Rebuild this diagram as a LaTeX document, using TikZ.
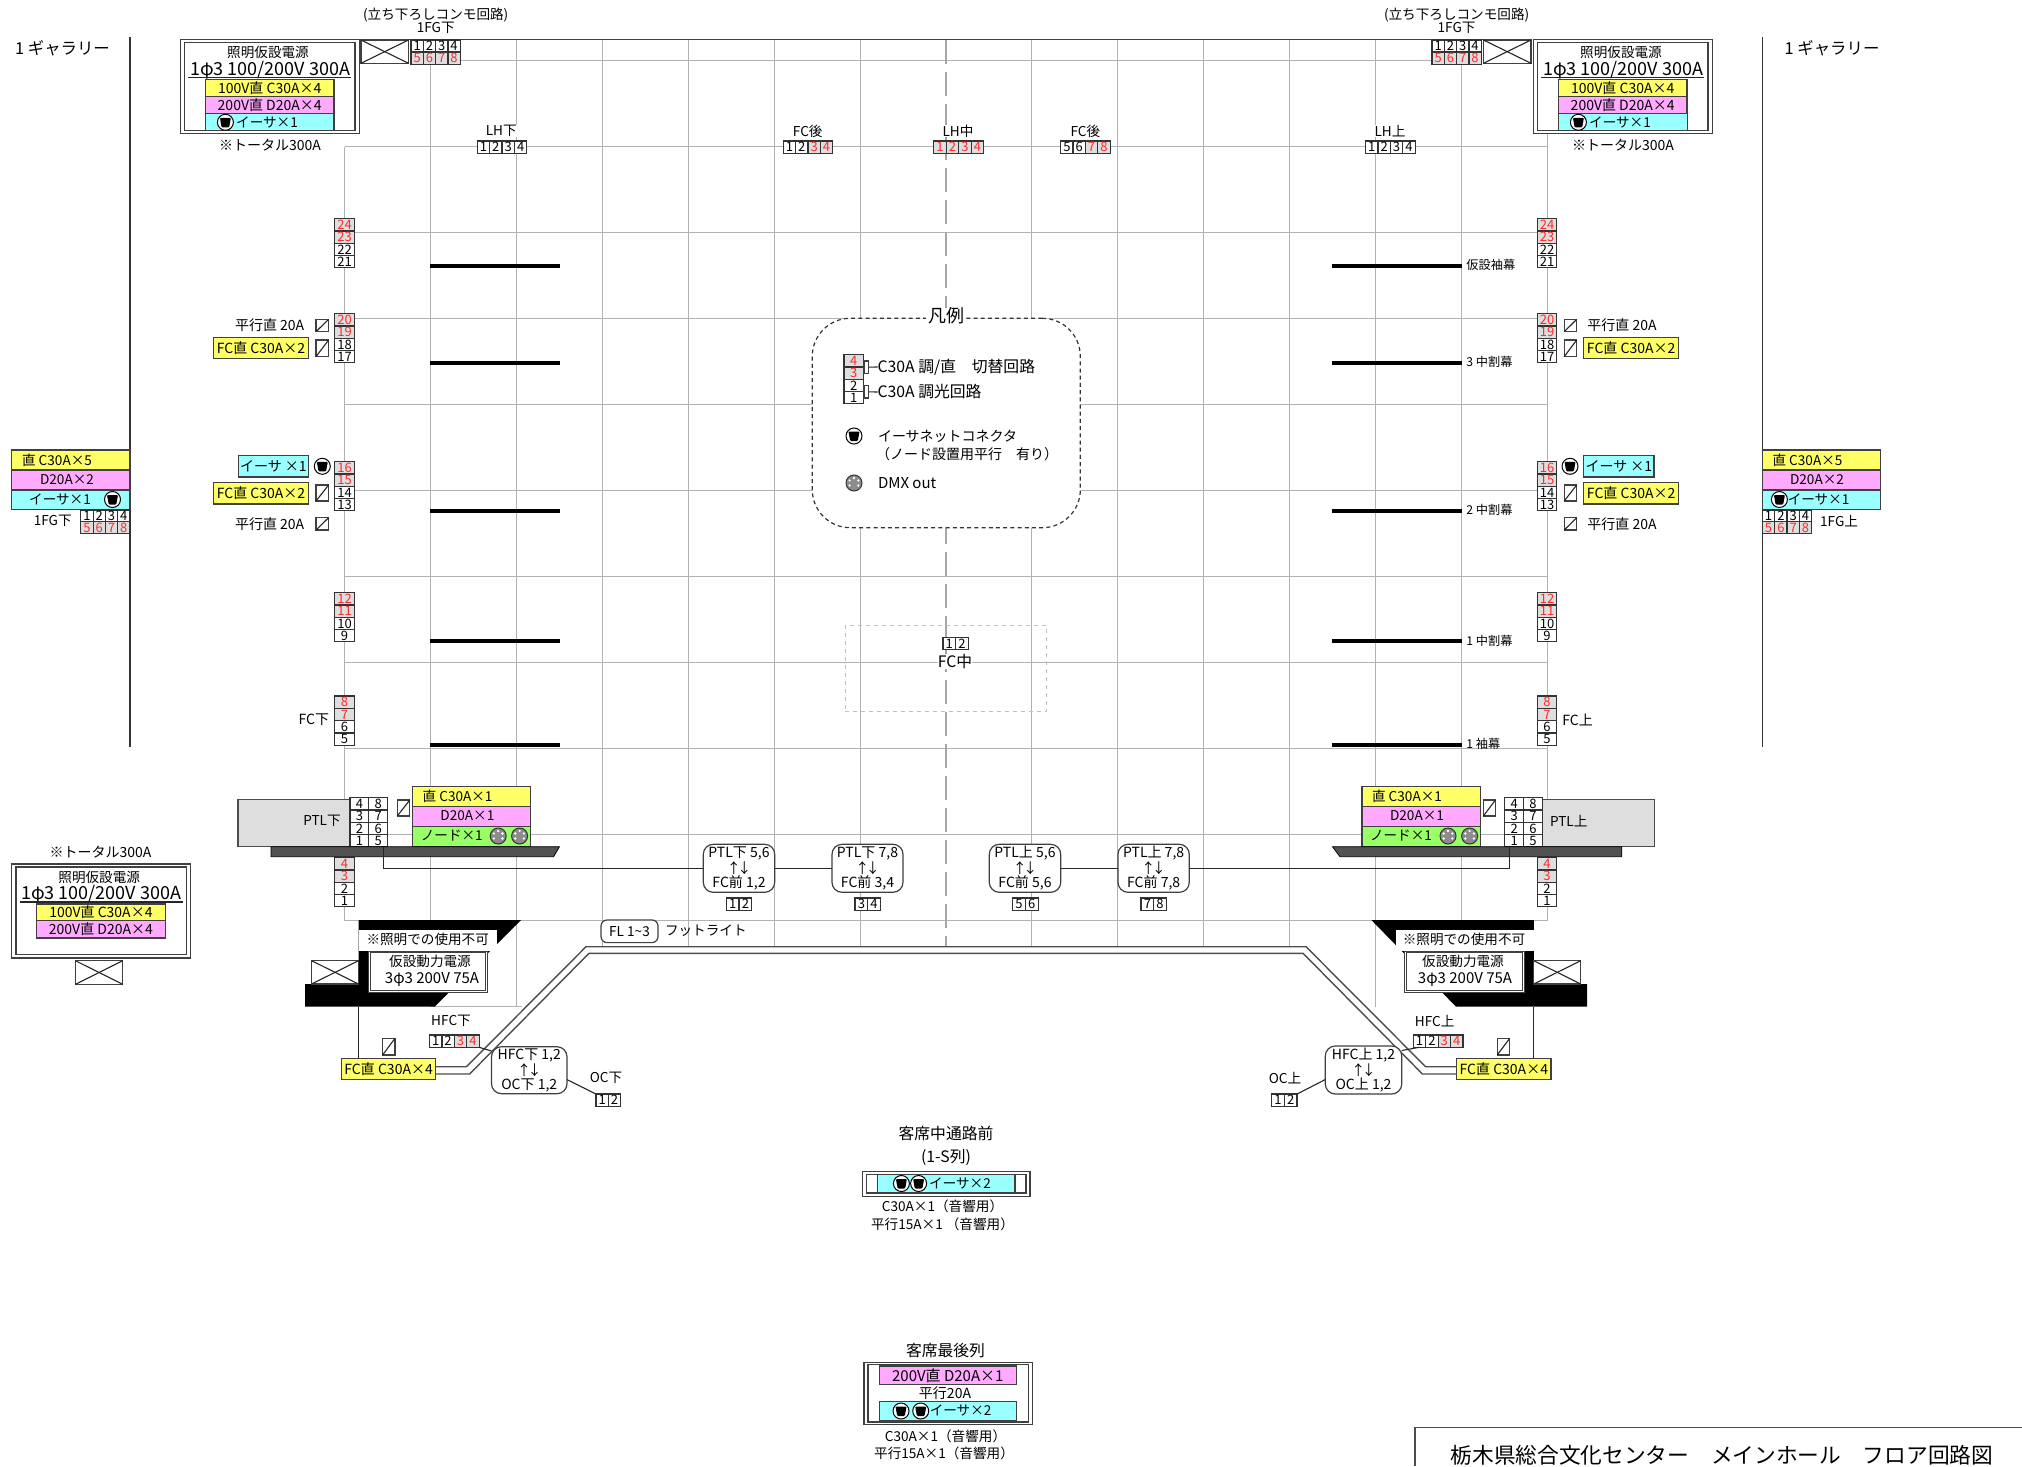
\documentclass[tikz,border=0pt]{standalone}
\usepackage{fontspec}
\setmainfont{Noto Sans CJK JP}
\usepackage{tikz}

\definecolor{cyel}{HTML}{FFFF66}
\definecolor{cpnk}{HTML}{FFAAFF}
\definecolor{ccya}{HTML}{99FFFF}
\definecolor{cgrn}{HTML}{99FF66}
\definecolor{cred}{HTML}{FF2A2A}

\tikzset{
	tx/.style={font=\fontsize{6.8}{7.8}\selectfont},
	txs/.style={font=\fontsize{6.1}{7}\selectfont},
	txm/.style={font=\fontsize{7}{8}\selectfont},
	txl/.style={font=\fontsize{7.5}{8.5}\selectfont},
	txh/.style={font=\fontsize{7.9}{9}\selectfont},
	txb/.style={font=\fontsize{9}{10}\selectfont},
	cellw/.style={draw=black!80,line width=.6pt,fill=white,font=\fontsize{6.5}{7}\selectfont,minimum height=6.1pt},
	cellr/.style={cellw,fill=black!13,text=cred},
	bar/.style={draw=black!75,line width=.6pt,txm},
	yelbar/.style={bar,fill=cyel},
	pnkbar/.style={bar,fill=cpnk},
	cyabar/.style={bar,fill=ccya},
	grnbar/.style={bar,fill=cgrn},
	wbox/.style={draw=black!75,line width=.6pt,fill=white},
	swbox/.style={wbox,rounded corners=5pt,align=center,font=\fontsize{7}{7.2}\selectfont},
	gridline/.style={black!30,line width=.5pt},
	wire/.style={black!85,line width=.55pt},
	stageline/.style={black!70,line width=.7pt},
	curtain/.style={black,line width=2pt},
	etherpic/.pic={
		\draw[black,line width=.5pt,fill=white] (0,0) circle (8);
		\fill[black,rounded corners=.5pt] (-5.5,-4.5) -- (5.5,-4.5) -- (3.8,5) -- (-3.8,5) -- cycle;
	},
	dmxpic/.pic={
		\draw[black!80,line width=.5pt,fill=black!45] (0,0) circle (8);
		\foreach \a in {-90,-30,30,150,210}
			\fill[white] (\a:5) circle (1.3);
	}
}

% box from its two corners, in pixels of the reference
\newcommand{\rbox}[7]{%
	\pgfmathsetmacro\bxc{(#3+#5)/2}\pgfmathsetmacro\byc{(#4+#6)/2}%
	\pgfmathsetmacro\bxw{(#5-#3)/2}\pgfmathsetmacro\byh{(#6-#4)/2}%
	\node[#1,minimum width=\bxw pt,minimum height=\byh pt] (#2) at (\bxc,\byc) {#7};}
\newcommand{\slashbox}[5]{%
	\rbox{wbox}{#1}{#2}{#3}{#4}{#5}{}
	\draw[wire] (#1.south west) -- (#1.north east);}
\newcommand{\crossbox}[5]{%
	\rbox{wbox}{#1}{#2}{#3}{#4}{#5}{}
	\draw[wire] (#1.south west) -- (#1.north east);
	\draw[wire] (#1.north west) -- (#1.south east);}
% row and column of circuit cells
\newcommand{\hrow}[5]{%
	\foreach \v/\s [count=\i] in {#5}
		\node[\s,minimum width=#4*.5pt] (#1\v) at ({#2+(\i-.5)*#4},{#3+6.15}) {\v};}
\newcommand{\vcol}[5]{%
	\foreach \v/\s [count=\i] in {#5}
		\node[\s,minimum width=#4*.5pt] (#1\v) at ({#2+#4/2},{#3+(\i-.5)*12.3}) {\v};}
% temporary power box
\newcommand{\powerbox}[3]{%
	\begin{scope}[shift={(#2,#3)}]
		\rbox{wbox}{#1out}{180.4}{39.7}{359.4}{133.7}{}
		\rbox{wbox}{#1in}{184.8}{42.7}{355}{130.3}{}
		\node[tx] (#1tit) at (268,52.7) {照明仮設電源};
		\node[txb] (#1amp) at (270,70) {1φ3 100/200V 300A};
		\draw[wire] (188.4,77.7) -- (351.3,77.7);
		\rbox{yelbar}{#1y}{205.4}{79.7}{334}{96.3}{100V直 C30A×4}
		\rbox{pnkbar}{#1p}{205.4}{96.3}{334}{113.7}{200V直 D20A×4}
	\end{scope}}

\begin{document}
\begin{tikzpicture}[x=.5pt,y=-.5pt,every node/.style={inner sep=0pt,outer sep=0pt}]
\useasboundingbox (0,0) rectangle (2022,1466);

% grid
\foreach \i in {1,2,12,13}
	\draw[gridline] ({344.6+85.9*\i},40) -- ({344.6+85.9*\i},1006.7);
\foreach \i in {3,4,5,6,8,9,10,11}
	\draw[gridline] ({344.6+85.9*\i},40) -- ({344.6+85.9*\i},947);
\draw[gridline] (344.6,146.7) -- (344.6,920.7);
\draw[gridline] (1547,134) -- (1547,920.7);
\draw[gridline] (460,60.7) -- (1432,60.7);
\foreach \j in {1,...,10}
	\draw[gridline] (344.6,{60.7+86*\j}) -- (1547,{60.7+86*\j});
\draw[gridline] (430.5,1006.7) -- (522,1006.7);
\draw[black!75,line width=.8pt] (408,39.7) -- (1484,39.7);
\draw[black!35,line width=.9pt,dash pattern=on 12pt off 4pt] (945.9,40) -- (945.9,947);

% gallery
\draw[black!80,line width=.6pt] (130,37) -- (130,746.7);
\draw[black!80,line width=.6pt] (1762.4,37) -- (1762.4,746.7);
\node[font=\fontsize{8.2}{10}\selectfont] (galL) at (62.5,48) {1 ギャラリー};
\node[font=\fontsize{8.2}{10}\selectfont] (galR) at (1832,48) {1 ギャラリー};

% curtains
\foreach \y in {265.7,362.7,511,641,745} {
	\draw[curtain] (430,\y) -- (559.8,\y);
	\draw[curtain] (1332,\y) -- (1462,\y);
}
\node[txs,anchor=west] (cur1) at (1466.4,264.5) {仮設袖幕};
\node[txs,anchor=west] (cur2) at (1466.4,362) {3 中割幕};
\node[txs,anchor=west] (cur3) at (1466.4,509.5) {2 中割幕};
\node[txs,anchor=west] (cur4) at (1466.4,640.5) {1 中割幕};
\node[txs,anchor=west] (cur5) at (1466.4,744) {1 袖幕};

% top of the stage
\crossbox{xL}{361}{40}{408.5}{63.3}
\crossbox{xR}{1483.4}{40}{1531}{63.3}
\hrow{tl}{411}{40}{12.3}{1/cellw,2/cellw,3/cellw,4/cellw}
\hrow{tm}{411}{52}{12.3}{5/cellr,6/cellr,7/cellr,8/cellr}
\hrow{trt}{1432}{40}{12.3}{1/cellw,2/cellw,3/cellw,4/cellw}
\hrow{trb}{1432}{52}{12.3}{5/cellr,6/cellr,7/cellr,8/cellr}
\node[tx] (downL) at (435.7,15) {(立ち下ろしコンモ回路)};
\node[tx] (fgL) at (435.7,28.3) {1FG下};
\node[tx] (downR) at (1456.6,15) {(立ち下ろしコンモ回路)};
\node[tx] (fgR) at (1456.6,28.3) {1FG下};

% power boxes
\powerbox{pa}{0}{0}
\rbox{cyabar}{pac}{205.4}{113.7}{334}{130.7}{}
\node[tx] (pat) at (267,122.3) {イーサ×1};
\path (225.4,122.3) pic {etherpic};
\node[txm] (pan) at (270,145.3) {※トータル300A};
\powerbox{pb}{1353}{0}
\rbox{cyabar}{pbc}{1558.4}{113.7}{1687.4}{130.7}{}
\node[tx] (pbt) at (1620,122.3) {イーサ×1};
\path (1578.4,122.3) pic {etherpic};
\node[txm] (pbn) at (1623,145.3) {※トータル300A};
\powerbox{pc}{-168.8}{824.3}
\node[txm] (pcn) at (100.5,852) {※トータル300A};
\crossbox{xC}{75.4}{960.7}{122.8}{984.3}

% labels above the grid
\node[tx,fill=white] (lhL) at (501.3,131) {LH下};
\hrow{lha}{477.2}{141}{12.4}{1/cellw,2/cellw,3/cellw,4/cellw}
\node[tx,fill=white] (fcbL) at (807.7,131) {FC後};
\hrow{fba}{783.3}{141}{12.35}{1/cellw,2/cellw,3/cellr,4/cellr}
\node[tx,fill=white] (lhC) at (958,131) {LH中};
\hrow{lhb}{933.7}{141}{12.5}{1/cellr,2/cellr,3/cellr,4/cellr}
\node[tx,fill=white] (fcbR) at (1085.3,131) {FC後};
\hrow{fbb}{1060.7}{141}{12.35}{5/cellw,6/cellw,7/cellr,8/cellr}
\node[tx,fill=white] (lhR) at (1390,131) {LH上};
\hrow{lhc}{1365.5}{141}{12.4}{1/cellw,2/cellw,3/cellw,4/cellw}

% side columns
\foreach \sd/\x in {L/334.8,R/1537.2} {
	\vcol{\sd}{\x}{218.7}{19.6}{24/cellr,23/cellr,22/cellw,21/cellw}
	\vcol{\sd}{\x}{313.7}{19.6}{20/cellr,19/cellr,18/cellw,17/cellw}
	\vcol{\sd}{\x}{461.7}{19.6}{16/cellr,15/cellr,14/cellw,13/cellw}
	\vcol{\sd}{\x}{592.7}{19.6}{12/cellr,11/cellr,10/cellw,9/cellw}
	\vcol{\sd}{\x}{696}{19.6}{8/cellr,7/cellr,6/cellw,5/cellw}
	\vcol{f\sd}{\x}{857.7}{19.6}{4/cellr,3/cellr,2/cellw,1/cellw}
}
\node[txm] (fcL) at (313.8,720) {FC下};
\node[txm] (fcR) at (1577.6,720) {FC上};

% left of the stage
\node[txm] (paraA) at (269.6,325) {平行直 20A};
\slashbox{sa}{316}{319.3}{328.6}{331.7}
\rbox{yelbar}{fcA}{213.4}{337.3}{308.5}{358.3}{FC直 C30A×2}
\slashbox{sb}{316}{340}{328.6}{356.7}
\rbox{cyabar}{ethA}{238.4}{455.7}{308.5}{477}{イーサ ×1}
\path (322.3,466.3) pic {etherpic};
\rbox{yelbar}{fcB}{213.4}{482.7}{308.5}{504}{FC直 C30A×2}
\slashbox{sc}{316}{485}{328.6}{501}
\node[txm] (paraB) at (269.6,524) {平行直 20A};
\slashbox{sd}{316}{517.7}{328.6}{530}

% right of the stage
\node[txm] (paraC) at (1622,325) {平行直 20A};
\slashbox{se}{1564.2}{319.3}{1576.7}{331.7}
\rbox{yelbar}{fcC}{1583.8}{337.3}{1678.5}{358.3}{FC直 C30A×2}
\slashbox{sf}{1564.2}{340}{1576.7}{356.7}
\rbox{cyabar}{ethB}{1583.8}{455.7}{1654}{477}{イーサ ×1}
\path (1570,466.3) pic {etherpic};
\rbox{yelbar}{fcD}{1583.8}{482.7}{1678.5}{504}{FC直 C30A×2}
\slashbox{sg}{1564.2}{485}{1576.7}{501}
\node[txm] (paraD) at (1622,524) {平行直 20A};
\slashbox{sh}{1564.2}{517.7}{1576.7}{530}

% gallery panels
\rbox{yelbar}{gay}{11.6}{450}{130}{470}{}
\rbox{pnkbar}{gap}{11.6}{470}{130}{490}{}
\rbox{cyabar}{gac}{11.6}{490}{130}{509.7}{}
\node[tx] (gat1) at (57,460) {直 C30A×5};
\node[tx] (gat2) at (67,480) {D20A×2};
\node[tx] (gat3) at (60,499.5) {イーサ×1};
\path (112.5,499.5) pic {etherpic};
\hrow{gal}{80.8}{510}{12.3}{1/cellw,2/cellw,3/cellw,4/cellw}
\hrow{gam}{80.8}{521.5}{12.3}{5/cellr,6/cellr,7/cellr,8/cellr}
\node[tx] (gafL) at (52.7,521) {1FG下};
\rbox{yelbar}{gby}{1762.4}{450}{1880.7}{470}{}
\rbox{pnkbar}{gbp}{1762.4}{470}{1880.7}{490}{}
\rbox{cyabar}{gbc}{1762.4}{490}{1880.7}{509.7}{}
\node[tx] (gbt1) at (1807.5,460) {直 C30A×5};
\node[tx] (gbt2) at (1817,480) {D20A×2};
\node[tx] (gbt3) at (1818.6,499.5) {イーサ×1};
\path (1779.4,499.5) pic {etherpic};
\hrow{gbl}{1762.4}{510}{12.3}{1/cellw,2/cellw,3/cellw,4/cellw}
\hrow{gbm}{1762.4}{521.5}{12.3}{5/cellr,6/cellr,7/cellr,8/cellr}
\node[tx] (gbfR) at (1839,521) {1FG上};

% legend
\rbox{draw=black!80,line width=.6pt,dash pattern=on 2pt off 1.6pt,fill=white,rounded corners=19pt}{legend}{812.3}{318.3}{1080.3}{527.7}{}
\node[fill=white,inner xsep=1pt,font=\fontsize{9}{10}\selectfont] (legendt) at (946,316) {凡例};
\vcol{lg}{844}{354.7}{19.3}{4/cellr,3/cellr,2/cellw,1/cellw}
\rbox{wbox}{lgb1}{864}{361}{868.7}{373.3}{}
\rbox{wbox}{lgb2}{864}{385.7}{868.7}{398}{}
\node[txh,anchor=west] (lgt1) at (877.5,367) {C30A 調/直　切替回路};
\node[txh,anchor=west] (lgt2) at (877.5,392) {C30A 調光回路};
\draw[wire] (lgb1.east) -- (lgt1.west);
\draw[wire] (lgb2.east) -- (lgt2.west);
\path (854,436) pic {etherpic};
\node[txm,anchor=west] (lgt3) at (878,436) {イーサネットコネクタ};
\node[txm,anchor=west] (lgt4) at (876,454) {（ノード設置用平行　有り）};
\path (854,483) pic {dmxpic};
\node[txl,anchor=west] (lgt5) at (878,483.5) {DMX out};

% FC centre
\rbox{draw=black!25,line width=.4pt,dash pattern=on 2pt off 2pt}{fcm}{845.3}{625.3}{1046.7}{711.3}{}
\hrow{fcc}{943}{637.3}{12.65}{1/cellw,2/cellw}
\node[txh,fill=white] (fcct) at (955,661.7) {FC中};

% PTL left
\rbox{draw=black!70,line width=.6pt,fill=black!13}{ptlL}{238}{799.3}{350}{846.7}{}
\node[tx] (ptlLt) at (322,821.3) {PTL下};
\vcol{pl}{350}{797.7}{18.8}{4/cellw,3/cellw,2/cellw,1/cellw}
\vcol{pl}{368.8}{797.7}{18.8}{8/cellw,7/cellw,6/cellw,5/cellw}
\slashbox{si}{397.3}{800}{409.8}{816}
\rbox{yelbar}{pya}{412.5}{786.7}{530.4}{806.7}{}
\rbox{pnkbar}{ppa}{412.5}{806.7}{530.4}{826.7}{}
\rbox{grnbar}{pga}{412.5}{826.7}{530.4}{846.7}{}
\node[tx] (pyat) at (457.6,796) {直 C30A×1};
\node[tx] (ppat) at (467.4,816) {D20A×1};
\node[tx] (pgat) at (451.8,835.5) {ノード×1};
\path (498.2,836) pic {dmxpic};
\path (519.6,836) pic {dmxpic};
\fill[black!68,draw=black,line width=.4pt] (271,846.7) -- (559.4,846.7) -- (553.6,856.7) -- (271,856.7) -- cycle;

% PTL right
\rbox{draw=black!70,line width=.6pt,fill=black!13}{ptlR}{1542.3}{799.3}{1654.4}{846.7}{}
\node[tx] (ptlRt) at (1568.7,821.3) {PTL上};
\vcol{pr}{1504.8}{797.7}{18.8}{4/cellw,3/cellw,2/cellw,1/cellw}
\vcol{pr}{1523.6}{797.7}{18.8}{8/cellw,7/cellw,6/cellw,5/cellw}
\slashbox{sj}{1483.4}{800}{1495.4}{816}
\rbox{yelbar}{pyb}{1362}{786.7}{1480.3}{806.7}{}
\rbox{pnkbar}{ppb}{1362}{806.7}{1480.3}{826.7}{}
\rbox{grnbar}{pgb}{1362}{826.7}{1480.3}{846.7}{}
\node[tx] (pybt) at (1407,796) {直 C30A×1};
\node[tx] (ppbt) at (1417,816) {D20A×1};
\node[tx] (pgbt) at (1401,835.5) {ノード×1};
\path (1448,836) pic {dmxpic};
\path (1469.6,836) pic {dmxpic};
\fill[black!68,draw=black,line width=.4pt] (1332.5,846.7) -- (1621.8,846.7) -- (1621.8,856.7) -- (1340,856.7) -- cycle;

% patch boxes
\rbox{swbox}{swA}{703.3}{844.3}{774.7}{892.3}{PTL下 5,6\\[-.3pt]↑\kern-.25em↓\\[-.3pt]FC前 1,2}
\rbox{swbox}{swB}{832}{844.3}{903}{892.3}{PTL下 7,8\\[-.3pt]↑\kern-.25em↓\\[-.3pt]FC前 3,4}
\rbox{swbox}{swC}{989.3}{844.3}{1060.7}{892.3}{PTL上 5,6\\[-.3pt]↑\kern-.25em↓\\[-.3pt]FC前 5,6}
\rbox{swbox}{swD}{1118}{844.3}{1189.3}{892.3}{PTL上 7,8\\[-.3pt]↑\kern-.25em↓\\[-.3pt]FC前 7,8}
\hrow{swa}{726.3}{898}{12.7}{1/cellw,2/cellw}
\hrow{swb}{855}{898}{12.7}{3/cellw,4/cellw}
\hrow{swc}{1012.7}{898}{12.7}{5/cellw,6/cellw}
\hrow{swd}{1141}{898}{12.7}{7/cellw,8/cellw}
\draw[wire] ([xshift=2.5pt]pl5.south) |- (swA.west);
\draw[wire] (swA.east) -- (swB.west);
\draw[wire] (swC.east) -- (swD.west);
\draw[wire] (swD.east) -| ([xshift=-2.5pt]pr1.south);

% stage edge
\rbox{yelbar}{fcE}{341.5}{1058.3}{435.7}{1079.3}{FC直 C30A×4}
\rbox{yelbar}{fcF}{1456.6}{1058.3}{1551}{1079.3}{FC直 C30A×4}
\coordinate (ea1) at (466.5,1066.7);
\coordinate (ea2) at (586,946.7);
\coordinate (ea3) at (1306,946.7);
\coordinate (ea4) at (1425.6,1066.7);
\coordinate (eb1) at (469.6,1074);
\coordinate (eb2) at (589,953.3);
\coordinate (eb3) at (1303,953.3);
\coordinate (eb4) at (1422.4,1074);
\draw[stageline] (fcE.east |- ea1) -- (ea1) -- (ea2) -- (ea3) -- (ea4) -- (fcF.west |- ea4);
\draw[stageline] (fcE.east |- eb1) -- (eb1) -- (eb2) -- (eb3) -- (eb4) -- (fcF.west |- eb4);
\node[tx,draw=black!75,line width=.6pt,rounded corners=3pt,fill=white,minimum width=28.5pt,minimum height=11.3pt] (flbox) at (629.5,931.3) {FL 1\textasciitilde 3};
\node[tx,anchor=west] (flt) at (665,931) {フットライト};

% power supply left
\fill[black] (358.5,920) -- (521,920) -- (434.7,1006.7) -- (305,1006.7) -- (305,984) -- (358.5,984) -- cycle;
\rbox{fill=white}{noteL}{358.5}{930}{497}{951}{}
\node[tx] (noteLt) at (427.7,939) {※照明での使用不可};
\rbox{wbox,line width=.4pt}{tmpLo}{368.3}{951}{487.5}{992.7}{}
\rbox{wbox,line width=.4pt}{tmpLi}{370.5}{952.5}{485.7}{990}{}
\node[tx] (tmpLa) at (430,961.7) {仮設動力電源};
\node[txl] (tmpLb) at (432,979) {3φ3 200V 75A};
\crossbox{xD}{311.6}{960.7}{358.5}{984}
\coordinate (legL) at (358.5,1006.7);
\draw[wire] (legL) -- (legL |- fcE.north);
\slashbox{sk}{382.6}{1038.3}{395}{1055}
\node[tx] (hfcL) at (451,1021) {HFC下};
\hrow{hfa}{429.5}{1035}{12.4}{1/cellw,2/cellw,3/cellr,4/cellr}
\rbox{swbox}{swE}{491.5}{1046.7}{567}{1093.7}{HFC下 1,2\\[-.3pt]↑\kern-.25em↓\\[-.3pt]OC下 1,2}
\node[tx] (ocL) at (606,1078.3) {OC下};
\hrow{oca}{596}{1094}{12.3}{1/cellw,2/cellw}
\draw[wire] (hfa4.south east) -- (swE.153);
\draw[wire] (swE.-14) -- (oca1.north west);

% power supply right
\fill[black] (1371.3,920) -- (1533.8,920) -- (1533.8,984) -- (1587,984) -- (1587,1006.7) -- (1456,1006.7) -- cycle;
\rbox{fill=white}{noteR}{1396}{930}{1533.8}{951}{}
\node[tx] (noteRt) at (1464,939) {※照明での使用不可};
\rbox{wbox,line width=.4pt}{tmpRo}{1404}{951}{1524}{992.7}{}
\rbox{wbox,line width=.4pt}{tmpRi}{1406}{952.5}{1522}{990}{}
\node[tx] (tmpRa) at (1463,961.7) {仮設動力電源};
\node[txl] (tmpRb) at (1465,979) {3φ3 200V 75A};
\crossbox{xE}{1533.8}{960.7}{1580.7}{984}
\coordinate (legR) at (1533.8,1006.7);
\draw[wire] (legR) -- (legR |- fcF.north);
\slashbox{sl}{1497.2}{1038.3}{1509.7}{1055}
\node[tx] (hfcR) at (1434.7,1021) {HFC上};
\hrow{hfb}{1413.3}{1035}{12.4}{1/cellw,2/cellw,3/cellr,4/cellr}
\rbox{swbox}{swF}{1325.3}{1046}{1401.7}{1094}{HFC上 1,2\\[-.3pt]↑\kern-.25em↓\\[-.3pt]OC上 1,2}
\node[tx] (ocR) at (1285,1078) {OC上};
\hrow{ocb}{1271.7}{1094}{12.65}{1/cellw,2/cellw}
\draw[wire] (hfb1.south) -- (swF.27);
\draw[wire] (swF.194) -- (ocb2.north east);

% seats
\node[txh] (midt) at (946,1133.3) {客席中通路前};
\node[txh] (mids) at (946,1157.7) {(1-S列)};
\rbox{wbox}{mido}{862.5}{1171.3}{1030}{1196.7}{}
\rbox{wbox}{midi}{866.4}{1174.3}{1026}{1193}{}
\rbox{cyabar}{midc}{877.5}{1174.3}{1015}{1193}{}
\path (901.4,1183.5) pic {etherpic};
\path (918.6,1183.5) pic {etherpic};
\node[tx] (midn) at (960,1183) {イーサ×2};
\node[tx] (mida) at (942.5,1206.7) {C30A×1（音響用）};
\node[tx] (midb) at (942.5,1224.7) {平行15A×1 （音響用）};

\node[txh] (lastt) at (945.5,1350.7) {客席最後列};
\rbox{wbox}{lasto}{864}{1362.3}{1032.2}{1424.7}{}
\rbox{wbox}{lasti}{868}{1364.7}{1028.5}{1422}{}
\rbox{pnkbar,txl}{lastp}{879.2}{1366}{1016.4}{1384.7}{200V直 D20A×1}
\node[txm] (lastm) at (945,1393.3) {平行20A};
\rbox{cyabar}{lastc}{879.2}{1401.3}{1016.4}{1420.3}{}
\path (901,1411) pic {etherpic};
\path (920.7,1411) pic {etherpic};
\node[tx] (lastn) at (960.6,1410.5) {イーサ×2};
\node[tx] (lasta) at (945.5,1436.7) {C30A×1（音響用）};
\node[tx] (lastb) at (944,1453.3) {平行15A×1（音響用）};

% title
\coordinate (tita) at (1415,1466);
\coordinate (titb) at (2022,1427.3);
\draw[black!70,line width=.7pt] (tita) |- (titb);
\node[font=\fontsize{10.85}{12}\selectfont,anchor=west] (titt) at (1450.6,1455.5) {栃木県総合文化センター　メインホール　フロア回路図};
\end{tikzpicture}
\end{document}
